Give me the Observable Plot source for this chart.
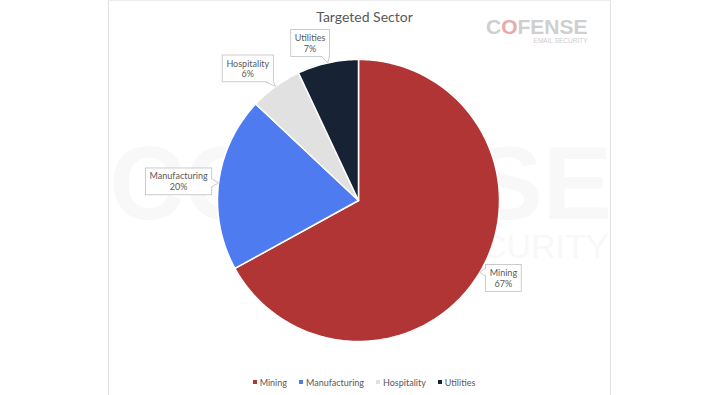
<!DOCTYPE html>
<html><head><meta charset="utf-8">
<script src="https://cdn.jsdelivr.net/npm/d3@7"></script>
<script src="https://cdn.jsdelivr.net/npm/@observablehq/plot@0.6"></script>
<style>
html,body{margin:0;padding:0;background:#fff;}
#wrap{position:relative;width:728px;height:395px;overflow:hidden;font-family:Lato,"Open Sans",sans-serif;}
#frame{position:absolute;left:108px;top:0;width:503px;height:395px;border-left:1px solid #e2e2e2;border-right:1px solid #e2e2e2;border-top:1px solid #eeeeee;box-sizing:border-box;pointer-events:none;}
#chart{position:absolute;left:0;top:0;}
#legend{position:absolute;left:0;top:372px;width:728px;display:flex;justify-content:center;}
#legend .lg-swatches, #legend .lg-swatches-wrap{font-family:Lato,"Open Sans",sans-serif !important;font-size:9px !important;color:#595959 !important;min-height:20px !important;margin:0 !important;}
#legend .lg-swatch{margin-right:12px !important;}
#legend .lg-swatch svg{margin-right:3px !important;}
#legend .lg-swatch:last-child{margin-right:0 !important;}
</style></head><body>
<div id="wrap"><div id="chart"></div><div id="frame"></div><div id="legend"></div></div>
<script>
const sectors = ["Mining", "Manufacturing", "Hospitality", "Utilities"];
const shares = [67, 20, 6, 7];
const colors = ["#b23535", "#4f7bf0", "#e1e1e1", "#172334"];
const titleText = "Targeted Sector";

// slices from data
const total = d3.sum(shares);
let acc = 0;
const slices = sectors.map((name, i) => {
  const a0 = acc / total * 2 * Math.PI;
  acc += shares[i];
  const a1 = acc / total * 2 * Math.PI;
  return {name, value: shares[i], a0, a1, mid: (a0 + a1) / 2};
});
const pts = slices.flatMap(s => {
  const n = Math.max(2, Math.ceil((s.a1 - s.a0) / (Math.PI / 180)));
  const arr = [{name: s.name, x: 0, y: 0}];
  for (let k = 0; k <= n; k++) {
    const a = s.a0 + (s.a1 - s.a0) * k / n;
    arr.push({name: s.name, x: Math.sin(a), y: Math.cos(a)});
  }
  return arr;
});
const R = 1.08;
const labels = slices.map(s => {
  const sx = Math.sin(s.mid), cy = Math.cos(s.mid);
  const ta = sx > 0.2 ? "start" : sx < -0.2 ? "end" : "middle";
  const la = cy > 0.6 ? "bottom" : cy < -0.6 ? "top" : "middle";
  return {...s, lx: R * sx, ly: R * cy, tx: sx, ty: cy, ta, la, text: `${s.name}\n${s.value}%`};
});
const groups = d3.groups(labels, d => d.ta + "|" + d.la);

const txtColor = "#595959";
const chart = Plot.plot({
  width: 728, height: 395,
  margin: 0,
  style: "background: transparent; overflow: visible; font-family: Lato, 'Open Sans', sans-serif;",
  x: {domain: [-1, 1], range: [217, 499], axis: null},
  y: {domain: [-1, 1], range: [341, 59], axis: null},
  color: {domain: sectors, range: colors},
  marks: [
    Plot.text(["COFENSE"], {frameAnchor: "top", dx: -4, dy: 218, lineAnchor: "bottom", fontSize: 104, fontWeight: "bold", fill: "#f8f8f8", fontFamily: "Liberation Sans, Arial, sans-serif"}),
    Plot.text(["EMAIL SECURITY"], {frameAnchor: "top-right", dx: -120, dy: 257, lineAnchor: "bottom", textAnchor: "end", fontSize: 34, fill: "#f8f8f8", fontFamily: "Liberation Sans, Arial, sans-serif", style: "letter-spacing: 6px"}),
    Plot.line(pts, {x: "x", y: "y", z: "name", fill: "name", stroke: "white", strokeWidth: 1.5, curve: "linear-closed"}),
    ...groups.map(([key, g]) => Plot.text(g, {
      x: "lx", y: "ly", text: "text",
      textAnchor: g[0].ta, lineAnchor: g[0].la,
      fontSize: 9, lineHeight: 1.2, fill: txtColor
    })),
    Plot.text([titleText], {frameAnchor: "top", dy: 21, lineAnchor: "bottom", fontSize: 14, fill: txtColor}),
    Plot.text(["COFENSE"], {frameAnchor: "top-right", dx: -141, dy: 33, lineAnchor: "bottom", textAnchor: "end", fontSize: 21, fontWeight: "bold", fill: "#cfcfcf", fontFamily: "Liberation Sans, Arial, sans-serif"}),
    Plot.text(["EMAIL SECURITY"], {frameAnchor: "top-right", dx: -141, dy: 42, lineAnchor: "bottom", textAnchor: "end", fontSize: 6.5, fill: "#cccccc", fontFamily: "Liberation Sans, Arial, sans-serif", style: "letter-spacing: 1.6px"})
  ]
});
document.getElementById("chart").appendChild(chart);

// logo: red O (smallest "COFENSE" text)
const cof = [...chart.querySelectorAll("text")].filter(t => t.textContent === "COFENSE");
cof.sort((a, b) => a.getBBox().height - b.getBBox().height);
const logo = cof[0];
if (logo) {
  while (logo.firstChild) logo.removeChild(logo.firstChild);
  logo.appendChild(document.createTextNode("C"));
  const o = document.createElementNS("http://www.w3.org/2000/svg", "tspan");
  o.setAttribute("fill", "#e8a9a7"); o.textContent = "O";
  logo.appendChild(o);
  logo.appendChild(document.createTextNode("FENSE"));
}

// callout boxes (text centred inside each box)
const X = chart.scale("x"), Y = chart.scale("y");
const NS = "http://www.w3.org/2000/svg";
const labelTexts = [...chart.querySelectorAll("text")].filter(t => labels.some(d => t.textContent.startsWith(d.name) && t.textContent.includes("%")));
labelTexts.forEach(t => {
  const d = labels.find(d => t.textContent.startsWith(d.name));
  const g = t.parentNode;
  let e = 0, f = 0;
  if (t.transform && t.transform.baseVal && t.transform.baseVal.numberOfItems) {
    const mm = t.transform.baseVal.consolidate().matrix; e = mm.e; f = mm.f;
  }
  const b = t.getBBox();
  const px = 4, py = 2.5;
  const x0 = b.x + e - px, x1 = b.x + e + b.width + px, y0 = b.y + f - py, y1 = b.y + f + b.height + py;
  // recentre text
  t.setAttribute("text-anchor", "middle");
  t.setAttribute("transform", `translate(${(x0 + x1) / 2},${f})`);
  const rect = document.createElementNS(NS, "rect");
  rect.setAttribute("x", x0); rect.setAttribute("y", y0);
  rect.setAttribute("width", x1 - x0); rect.setAttribute("height", y1 - y0);
  rect.setAttribute("fill", "white"); rect.setAttribute("stroke", "#bfbfbf"); rect.setAttribute("stroke-width", 0.8);
  g.insertBefore(rect, t);
  const tx = X.apply(d.tx), ty = Y.apply(d.ty);
  let b1, b2, inset;
  const dl = x0 - tx, dr = tx - x1, dt = y0 - ty, db = ty - y1;
  const m = Math.max(dl, dr, dt, db);
  if (m <= 0) return;
  const w = 4;
  if (m === dl || m === dr) {
    const ex = m === dl ? x0 : x1;
    const cy = Math.min(Math.max(ty, y0 + w), y1 - w);
    b1 = [ex, cy - w]; b2 = [ex, cy + w]; inset = m === dl ? [1, 0] : [-1, 0];
  } else {
    const ey = m === dt ? y0 : y1;
    const cx = Math.min(Math.max(tx, x0 + w), x1 - w);
    b1 = [cx - w, ey]; b2 = [cx + w, ey]; inset = m === dt ? [0, 1] : [0, -1];
  }
  const fillP = document.createElementNS(NS, "path");
  fillP.setAttribute("d", `M${b1[0] + inset[0]},${b1[1] + inset[1]}L${tx},${ty}L${b2[0] + inset[0]},${b2[1] + inset[1]}Z`);
  fillP.setAttribute("fill", "white");
  g.insertBefore(fillP, t);
  const line = document.createElementNS(NS, "path");
  line.setAttribute("d", `M${b1[0]},${b1[1]}L${tx},${ty}L${b2[0]},${b2[1]}`);
  line.setAttribute("fill", "none"); line.setAttribute("stroke", "#bfbfbf"); line.setAttribute("stroke-width", 0.8);
  g.insertBefore(line, t);
});

// legend
const leg = chart.legend("color", {legend: "swatches", swatchSize: 4, className: "lg"});
document.getElementById("legend").appendChild(leg);
</script>
</body></html>
